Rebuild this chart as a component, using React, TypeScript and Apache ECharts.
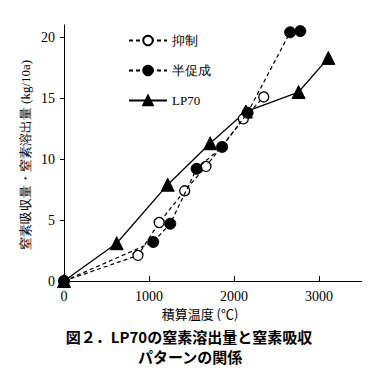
import React, { useEffect, useRef } from "react";
import * as echarts from "echarts";

const seriesNames = ["抑制", "半促成", "LP70"];
const yokuseiX = [0, 870, 1120, 1420, 1670, 2110, 2350];
const yokuseiY = [0, 2.1, 4.8, 7.4, 9.4, 13.3, 15.1];
const hansokuseiX = [0, 1050, 1250, 1560, 1860, 2160, 2660, 2780];
const hansokuseiY = [0, 3.2, 4.7, 9.2, 11.0, 13.8, 20.4, 20.5];
const lp70X = [0, 620, 1220, 1720, 2140, 2760, 3110];
const lp70Y = [0, 3.1, 7.9, 11.3, 13.9, 15.5, 18.3];
const xTicks = [0, 1000, 2000, 3000];
const yTicks = [0, 5, 10, 15, 20];
const yAxisTitle = "窒素吸収量・窒素溶出量 (kg/10a)";
const xAxisTitle = "積算温度 (℃)";
const titleLine1 = "図２．LP70の窒素溶出量と窒素吸収";
const titleLine2 = "パターンの関係";

const zip = (xs: number[], ys: number[]) => xs.map((x, i) => [x, ys[i]]);

const serif = "serif";

export default function App() {
  const ref = useRef<HTMLDivElement>(null);
  useEffect(() => {
    if (!ref.current) return;
    const chart = echarts.init(ref.current, null, { renderer: "svg" });
    chart.setOption({
      animation: false,
      backgroundColor: "#ffffff",
      textStyle: { fontFamily: serif, color: "#000" },
      grid: { left: 64, right: 18.5, top: 25, bottom: 97, containLabel: false },
      xAxis: {
        type: "value",
        min: 0,
        max: 3500,
        interval: 1000,
        splitLine: { show: false },
        axisLine: { lineStyle: { color: "#000", width: 1 } },
        axisTick: { inside: true, length: 5, customValues: xTicks.slice(1), lineStyle: { color: "#000" } },
        axisLabel: {
          customValues: xTicks,
          formatter: (v: number) => String(v),
          color: "#000",
          fontFamily: serif,
          fontSize: 14,
          margin: 8,
        },
      },
      yAxis: {
        type: "value",
        min: 0,
        max: 21,
        interval: 5,
        splitLine: { show: false },
        axisLine: { show: true, lineStyle: { color: "#000", width: 1 } },
        axisTick: { show: true, inside: false, length: 4, customValues: yTicks.slice(1), lineStyle: { color: "#000" } },
        axisLabel: {
          customValues: yTicks,
          formatter: (v: number) => String(v),
          color: "#000",
          fontFamily: serif,
          fontSize: 14,
          margin: 9,
        },
      },
      legend: {
        orient: "vertical",
        left: 123,
        top: 29,
        itemWidth: 38,
        itemHeight: 12,
        itemGap: 17,
        data: seriesNames,
        textStyle: { color: "#000", fontSize: 13, fontFamily: serif },
      },
      graphic: [
        {
          type: "text",
          x: 25,
          y: 155,
          rotation: Math.PI / 2,
          style: {
            text: yAxisTitle,
            fill: "#000000",
            fontSize: 13,
            fontFamily: serif,
            align: "center",
            verticalAlign: "middle",
          },
        },
        {
          type: "text",
          x: 200,
          y: 313,
          style: {
            text: xAxisTitle,
            fill: "#000000",
            fontSize: 13,
            fontFamily: "Noto Sans CJK JP",
            align: "center",
            verticalAlign: "middle",
          },
        },
        {
          type: "text",
          x: 189,
          y: 336,
          style: {
            text: titleLine1,
            fill: "#000000",
            fontSize: 15,
            fontWeight: "bold",
            fontFamily: "Noto Sans CJK JP",
            align: "center",
            verticalAlign: "middle",
          },
        },
        {
          type: "text",
          x: 190,
          y: 356,
          style: {
            text: titleLine2,
            fill: "#000000",
            fontSize: 15,
            fontWeight: "bold",
            fontFamily: "Noto Sans CJK JP",
            align: "center",
            verticalAlign: "middle",
          },
        },
      ],
      series: [
        {
          name: seriesNames[0],
          type: "line",
          data: zip(yokuseiX, yokuseiY),
          symbol: "circle",
          symbolSize: 10,
          z: 3,
          lineStyle: { color: "#000", width: 1.2, type: [4, 3] },
          itemStyle: { color: "#fff", borderColor: "#000", borderWidth: 1.3 },
        },
        {
          name: seriesNames[1],
          type: "line",
          data: zip(hansokuseiX, hansokuseiY),
          symbol: "circle",
          symbolSize: 11,
          z: 4,
          lineStyle: { color: "#000", width: 1.2, type: [4, 3] },
          itemStyle: { color: "#000", borderColor: "#000", borderWidth: 1 },
        },
        {
          name: seriesNames[2],
          type: "line",
          data: zip(lp70X, lp70Y),
          symbol: "triangle",
          symbolSize: 13,
          z: 2,
          lineStyle: { color: "#000", width: 1.3, type: "solid" },
          itemStyle: { color: "#000", borderColor: "#000", borderWidth: 1 },
        },
      ],
    });
    return () => chart.dispose();
  }, []);
  return <div ref={ref} style={{ width: 380, height: 378, marginLeft: -8, marginTop: -8 }} />;
}
